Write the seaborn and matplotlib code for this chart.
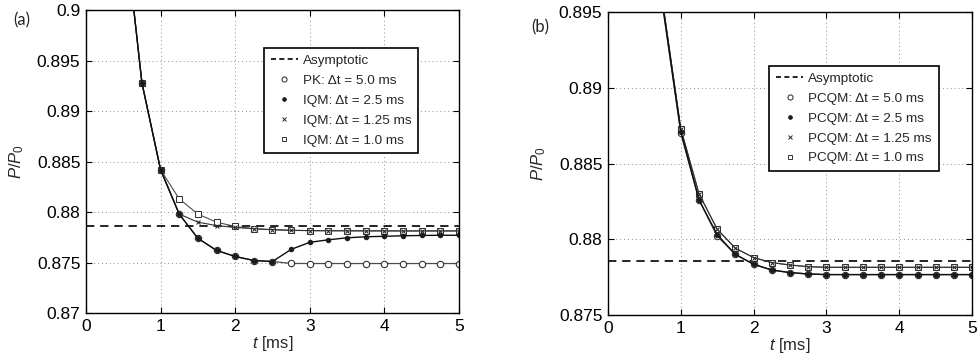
import numpy as np
import matplotlib
matplotlib.use('Agg')
import matplotlib.pyplot as plt
from matplotlib.lines import Line2D
from matplotlib.ticker import FormatStrFormatter
import seaborn as sns

# time grid (ms), markers every 0.25 ms
t = [0.5, 0.75, 1.0, 1.25, 1.5, 1.75, 2.0, 2.25, 2.5, 2.75,
     3.0, 3.25, 3.5, 3.75, 4.0, 4.25, 4.5, 4.75, 5.0]

# panel (a)
asym_a = 0.87857
pk_5 = [0.9095, 0.8928, 0.8842, 0.8798, 0.8774, 0.8762, 0.8756, 0.8752, 0.8751, 0.87491,
        0.8749, 0.8749, 0.8749, 0.8749, 0.8749, 0.8749, 0.8749, 0.8749, 0.8749]
iqm_25 = [0.9095, 0.8928, 0.8842, 0.8798, 0.8774, 0.8762, 0.8756, 0.8752, 0.8751, 0.8763,
          0.8770, 0.87725, 0.87745, 0.87755, 0.8776, 0.87765, 0.87768, 0.8777, 0.8777]
iqm_125 = [0.9095, 0.8928, 0.8842, 0.8798, 0.8790, 0.87866, 0.87847, 0.87835, 0.87826, 0.8782,
           0.87816, 0.87815, 0.87814, 0.87813, 0.87813, 0.87812, 0.87812, 0.87812, 0.87812]
iqm_10 = [0.9095, 0.8928, 0.8842, 0.8813, 0.8798, 0.8790, 0.87857, 0.87834, 0.87824, 0.87818,
          0.87816, 0.87815, 0.87815, 0.87814, 0.87814, 0.87814, 0.87814, 0.87814, 0.87814]
labels_a = ['PK: Δt = 5.0 ms', 'IQM: Δt = 2.5 ms', 'IQM: Δt = 1.25 ms', 'IQM: Δt = 1.0 ms']

# panel (b)
asym_b = 0.87859
pcqm_5 = [0.9090, 0.8954, 0.8870, 0.8826, 0.8802, 0.8790, 0.87835, 0.87797, 0.8778, 0.87771,
          0.87767, 0.87767, 0.87767, 0.87767, 0.87767, 0.87767, 0.87767, 0.87767, 0.87767]
pcqm_25 = [0.9091, 0.8955, 0.8871, 0.8826, 0.8803, 0.8790, 0.87835, 0.87797, 0.8778, 0.87771,
           0.87767, 0.87767, 0.87767, 0.87767, 0.87767, 0.87767, 0.87767, 0.87767, 0.87767]
pcqm_125 = [0.9093, 0.8957, 0.8873, 0.8830, 0.88066, 0.87941, 0.87879, 0.87846, 0.8783, 0.87819,
            0.87815, 0.87815, 0.87815, 0.87815, 0.87815, 0.87815, 0.87815, 0.87815, 0.87815]
pcqm_10 = [0.9093, 0.8957, 0.8873, 0.8830, 0.88066, 0.87941, 0.87879, 0.87846, 0.8783, 0.87819,
           0.87815, 0.87815, 0.87815, 0.87815, 0.87815, 0.87815, 0.87815, 0.87815, 0.87815]
labels_b = ['PCQM: Δt = 5.0 ms', 'PCQM: Δt = 2.5 ms', 'PCQM: Δt = 1.25 ms', 'PCQM: Δt = 1.0 ms']

sns.set_style('ticks')
plt.rcParams['font.family'] = ['Liberation Sans', 'DejaVu Sans']
plt.rcParams['mathtext.fontset'] = 'custom'
plt.rcParams['mathtext.rm'] = 'Liberation Sans'
plt.rcParams['mathtext.it'] = 'Liberation Sans:italic'

# marker styles: circle, dot, x, square (dots/circles drawn on top)
styles = [
    dict(marker='o', markersize=4.6, mfc='white', mec='0.15', mew=0.75, color='0.3', lw=0.9, zorder=2.2),
    dict(marker='.', markersize=6.5, mfc='0.1', mec='0.1', mew=0.7, color='0.05', lw=1.0, zorder=2.3),
    dict(marker='x', markersize=3.2, mfc='none', mec='0.15', mew=0.75, color='0.2', lw=0.8, zorder=2.1),
    dict(marker='s', markersize=3.8, mfc='white', mec='0.2', mew=0.75, color='0.3', lw=0.8, zorder=2.0),
]


def draw_panel(ax, series, labels, asym, ylim, yticks, legend_xy):
    ax.axhline(asym, color='black', lw=1.2, ls=(0, (5, 3.5)), zorder=1)
    for vals, st in zip(series, styles):
        sns.lineplot(x=t, y=vals, ax=ax, errorbar=None, legend=False, **st)
    ax.set_xlim(0, 5)
    ax.set_ylim(*ylim)
    ax.set_xticks([0, 1, 2, 3, 4, 5])
    ax.set_yticks(yticks)
    ax.yaxis.set_major_formatter(FormatStrFormatter('%g'))
    ax.grid(True, ls=(0, (1, 3)), color='0.55', lw=0.7)
    ax.set_axisbelow(True)
    ax.tick_params(direction='in', top=True, right=True, length=4, width=0.8,
                   labelsize=12.5, colors='black', pad=4)
    for sp in ax.spines.values():
        sp.set_visible(True)
        sp.set_color('black')
        sp.set_linewidth(1.0)
    ax.set_xlabel(r'$t$ [ms]', fontsize=12, labelpad=0)
    ax.set_ylabel(r'$P/P_{\mathit{0}}$', fontsize=12, labelpad=8)

    handles = [Line2D([], [], color='black', lw=1.2, ls=(0, (3, 2)), label='Asymptotic')]
    for lab, st in zip(labels, styles):
        handles.append(Line2D([], [], ls='none', marker=st['marker'],
                              markersize=st['markersize'] * 0.8, mfc=st['mfc'],
                              mec=st['mec'], mew=0.7, label=lab))
    leg = ax.legend(handles=handles, loc='upper left', bbox_to_anchor=legend_xy,
                    fontsize=9.7, frameon=True, fancybox=False, framealpha=1,
                    edgecolor='black', handlelength=2.0, handletextpad=0.4,
                    labelspacing=0.55, borderpad=0.5, borderaxespad=0)
    leg.get_frame().set_linewidth(1.2)


fig = plt.figure(figsize=(9.79, 3.58), dpi=100)
ax1 = fig.add_axes([0.0878, 0.1257, 0.381, 0.846])
ax2 = fig.add_axes([0.621, 0.120, 0.372, 0.8465])

draw_panel(ax1, [pk_5, iqm_25, iqm_125, iqm_10], labels_a, asym_a,
           (0.87, 0.9), [0.87, 0.875, 0.88, 0.885, 0.89, 0.895, 0.9], (0.477, 0.875))
draw_panel(ax2, [pcqm_5, pcqm_25, pcqm_125, pcqm_10], labels_b, asym_b,
           (0.875, 0.895), [0.875, 0.88, 0.885, 0.89, 0.895], (0.443, 0.822))

fig.text(22 / 979, 1 - 20 / 358, '(a)', fontsize=12, family=['Lato', 'DejaVu Sans'],
         ha='center', va='center')
fig.text(540 / 979, 1 - 27 / 358, '(b)', fontsize=12, family=['Lato', 'DejaVu Sans'],
         ha='center', va='center')

fig.savefig('out.png', dpi=100)
